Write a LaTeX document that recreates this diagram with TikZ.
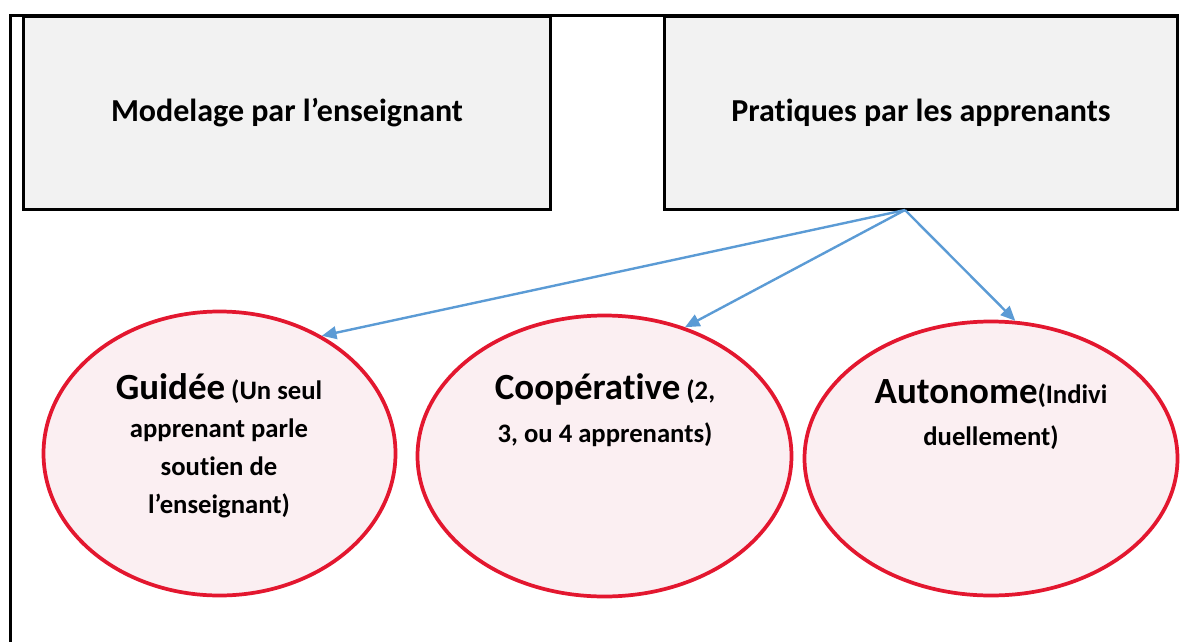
\documentclass[tikz,border=0pt]{standalone}
\usepackage{fontspec}
\setmainfont{Carlito}[Ligatures=NoCommon]
\usetikzlibrary{shapes.geometric,arrows.meta}
\definecolor{boxfill}{HTML}{F2F2F2}
\definecolor{ellfill}{HTML}{FBEFF2}
\definecolor{ellred}{HTML}{E3172F}
\definecolor{arrowblue}{HTML}{5B9BD5}
\begin{document}
\begin{tikzpicture}[x=0.75pt,y=-0.75pt,
  frame/.style={draw=black,line width=2.25pt},
  topbox/.style={draw=black,line width=2.25pt,fill=boxfill,inner sep=0pt,
    font=\fontsize{24}{28}\selectfont\bfseries},
  ell/.style={ellipse,draw=ellred,line width=2.8pt,fill=ellfill,inner sep=0pt},
  elltext/.style={align=center,anchor=base,inner sep=0pt},
  conn/.style={draw=arrowblue,line width=1.8pt,-{Triangle[length=11pt,width=9.5pt]}}]
\useasboundingbox (0,0) rectangle (1181,642);
\draw[frame] (10,642) -- (10,16) -- (1179,16);
\node[topbox,minimum width=395.25pt,minimum height=144.75pt] (modelage) at (287,113) {Modelage par l’enseignant};
\node[topbox,minimum width=384.75pt,minimum height=144.75pt] (pratiques) at (921,113) {Pratiques par les apprenants};
\node[ell,minimum width=264pt,minimum height=213pt] (guidee) at (219.5,453.5) {};
\node[ell,minimum width=280.5pt,minimum height=210.75pt] (coop) at (604.5,456) {};
\node[ell,minimum width=279.75pt,minimum height=205.5pt] (auto) at (991,458.5) {};
\node[elltext,font=\fontsize{20}{28.5}\selectfont\bfseries] (guideetxt) at (219,513)
  {{\fontsize{27.7}{28}\selectfont Guidée} (Un seul\\apprenant parle\\soutien de\\l’enseignant)};
\node[elltext,font=\fontsize{20}{32}\selectfont\bfseries] (cooptxt) at (605,442)
  {{\fontsize{27.7}{28}\selectfont Coopérative} (2,\\3, ou 4 apprenants)};
\node[elltext,font=\fontsize{20}{31.5}\selectfont\bfseries] (autotxt) at (991,445)
  {{\fontsize{27.7}{28}\selectfont Autonome}(Indivi\\duellement)};
\coordinate (src) at (905,210);
\draw[conn] (src) -- (guidee.49);
\draw[conn] (src) -- (coop.58);
\draw[conn] (src) -- (auto.80);
\end{tikzpicture}
\end{document}
